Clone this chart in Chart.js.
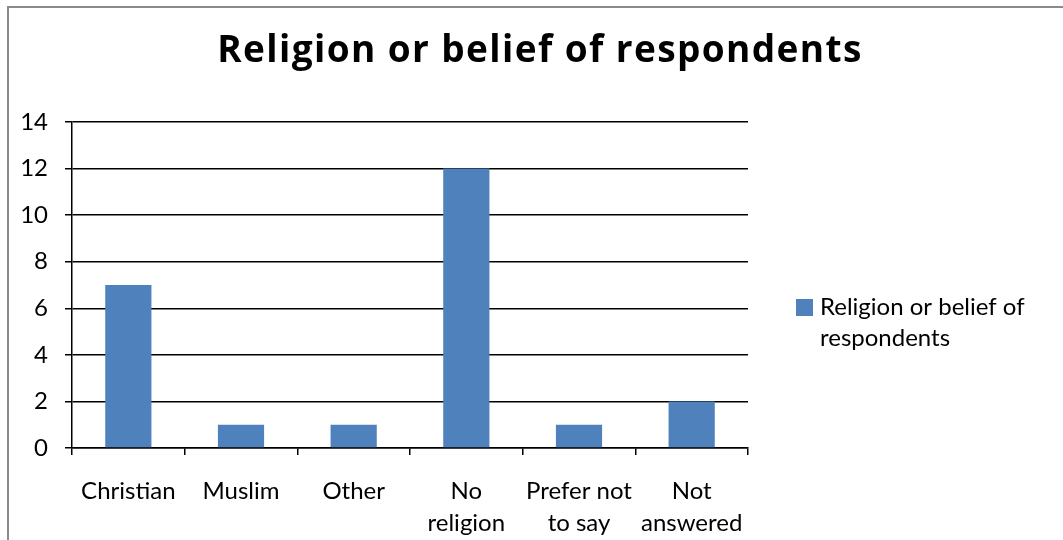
<!DOCTYPE html>
<html>
<head>
<meta charset="utf-8">
<script src="https://cdn.jsdelivr.net/npm/chart.js@4"></script>
<style>
  html, body { margin: 0; padding: 0; background: #fff; }
  #wrap { width: 1063px; height: 540px; position: relative; }
</style>
</head>
<body>
<div id="wrap"><canvas id="chart"></canvas></div>
<script>
const categories = ['Christian', 'Muslim', 'Other', ['No', 'religion'], ['Prefer not', 'to say'], ['Not', 'answered']];
const counts = [7, 1, 1, 12, 1, 2];
const seriesName = 'Religion or belief of respondents';
const legendLines = ['Religion or belief of', 'respondents'];
const barColor = '#4F81BD';
const fontFamily = 'Lato, "Open Sans", sans-serif';

// frame, title and legend are painted around the plot by hand
const extras = {
  id: 'extras',
  beforeDraw(chart) {
    const ctx = chart.ctx;
    ctx.save();
    ctx.strokeStyle = '#8a8a8a';
    ctx.lineWidth = 2;
    ctx.strokeRect(8, 7, 1200, 800);
    ctx.restore();
  },
  afterDraw(chart) {
    const ctx = chart.ctx;
    const area = chart.chartArea;
    ctx.save();
    // title
    ctx.fillStyle = '#000';
    ctx.font = 'bold 37px "Open Sans", sans-serif';
    ctx.letterSpacing = '1.4px';
    ctx.textAlign = 'center';
    ctx.textBaseline = 'alphabetic';
    ctx.fillText(seriesName, 540, 62);
    ctx.letterSpacing = '0px';
    // legend
    const x = area.right + 48;
    const y = 299;
    ctx.textAlign = 'left';
    ctx.textBaseline = 'middle';
    ctx.fillStyle = barColor;
    ctx.fillRect(x, y, 17, 17);
    ctx.fillStyle = '#000';
    ctx.font = '24px ' + fontFamily;
    legendLines.forEach((line, i) => {
      ctx.fillText(line, x + 24, y + 8 + i * 31);
    });
    ctx.restore();
  }
};

new Chart(document.getElementById('chart'), {
  type: 'bar',
  data: {
    labels: categories,
    datasets: [{
      label: seriesName,
      data: counts,
      backgroundColor: barColor,
      borderWidth: 0,
      barPercentage: 0.41,
      categoryPercentage: 1.0,
    }],
  },
  options: {
    responsive: true,
    maintainAspectRatio: false,
    animation: false,
    layout: { padding: { top: 122, left: 8, right: 315, bottom: 0 } },
    plugins: {
      legend: { display: false },
      tooltip: { enabled: false },
      title: { display: false },
    },
    scales: {
      x: {
        grid: {
          offset: true,
          drawOnChartArea: false,
          drawTicks: true,
          tickLength: 7,
          color: '#000',
          lineWidth: 1.5,
        },
        border: { color: '#000', width: 1.5 },
        ticks: {
          color: '#000',
          padding: 21,
          maxRotation: 0,
          autoSkip: false,
          font: { family: fontFamily, size: 24, lineHeight: 1.3 },
        },
        afterFit: (scale) => { scale.height = 92; },
      },
      y: {
        min: 0,
        max: 14,
        ticks: {
          stepSize: 2,
          color: '#000',
          padding: 17,
          font: { family: fontFamily, size: 24 },
        },
        grid: { color: '#000', lineWidth: 1.5, tickLength: 7 },
        border: { color: '#000', width: 1.5 },
        afterFit: (scale) => { scale.width = 64; },
      },
    },
  },
  plugins: [extras],
});
</script>
</body>
</html>
